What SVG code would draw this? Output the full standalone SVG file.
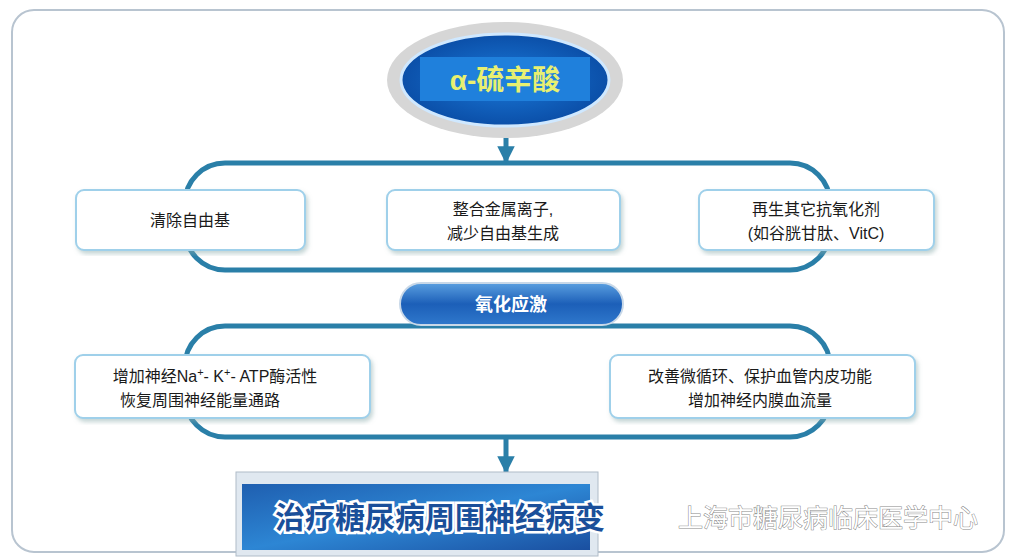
<svg xmlns="http://www.w3.org/2000/svg" width="1012" height="560" viewBox="0 0 1012 560">
<defs>
<style>
.box{fill:#fff;stroke:#9fd0ea;stroke-width:2}
.t{font-family:"Liberation Sans","Noto Sans CJK SC",sans-serif;font-size:16px;fill:#1a1a1a;text-anchor:middle}
.br{fill:none;stroke:#2a7fa8;stroke-width:5}
</style>
<linearGradient id="pill" x1="0" y1="0" x2="0" y2="1"><stop offset="0" stop-color="#5a9fe0"/><stop offset="0.5" stop-color="#1c5fb8"/><stop offset="1" stop-color="#2f78cc"/></linearGradient>
<linearGradient id="fin" x1="0" y1="0" x2="1" y2="1"><stop offset="0" stop-color="#1f5fb0"/><stop offset="0.5" stop-color="#2d86d4"/><stop offset="1" stop-color="#1a4fa0"/></linearGradient>
<radialGradient id="ell" cx="0.5" cy="0.5" r="0.5"><stop offset="0" stop-color="#1a78d8"/><stop offset="1" stop-color="#0b4fa8"/></radialGradient>
<marker id="ar" viewBox="0 0 10 10" refX="9" refY="5" markerWidth="3.5" markerHeight="3.5" orient="auto"><path d="M0,0 L10,5 L0,10 z" fill="#2a7fa8"/></marker>
<filter id="sh"><feDropShadow dx="2" dy="3" stdDeviation="2" flood-color="#8aa" flood-opacity="0.5"/></filter>
</defs>
<rect x="12" y="10" width="992" height="542" rx="22" fill="#fff" stroke="#b8c4d0" stroke-width="2"/>
<g id="connectors">
<rect class="br" x="185" y="163" width="645" height="107" rx="40"/>
<rect class="br" x="185" y="326" width="645" height="111" rx="40"/>
<line x1="506" y1="128" x2="506" y2="162" stroke="#2a7fa8" stroke-width="5" marker-end="url(#ar)"/>
<line x1="506" y1="437" x2="506" y2="472" stroke="#2a7fa8" stroke-width="5" marker-end="url(#ar)"/>
</g>
<g id="top">
<ellipse cx="505" cy="80" rx="118" ry="58" fill="#d6d6d6"/>
<ellipse cx="505" cy="80" rx="104" ry="46" fill="url(#ell)" stroke="#cfe8ff" stroke-width="3"/>
<rect x="420" y="57" width="170" height="44" fill="#1f80dc"/>
<text x="505" y="90" font-family="Liberation Sans,Noto Sans CJK SC,sans-serif" font-size="28" font-weight="bold" fill="#e8f070" text-anchor="middle">α-硫辛酸</text>
</g>
<g id="n1"><rect class="box" x="76" y="190" width="229" height="60" rx="8" filter="url(#sh)"/><text class="t" x="190" y="226">清除自由基</text></g>
<g id="n2"><rect class="box" x="387" y="190" width="233" height="60" rx="8" filter="url(#sh)"/><text class="t" x="503" y="215">整合金属离子,</text><text class="t" x="503" y="239">减少自由基生成</text></g>
<g id="n3"><rect class="box" x="699" y="190" width="235" height="60" rx="8" filter="url(#sh)"/><text class="t" x="816" y="215">再生其它抗氧化剂</text><text class="t" x="816" y="239">(如谷胱甘肽、VitC)</text></g>
<g id="mid"><rect x="400" y="283" width="223" height="42" rx="21" fill="url(#pill)" stroke="#c8d8e8" stroke-width="2"/><text x="511" y="311" font-family="Liberation Sans,Noto Sans CJK SC,sans-serif" font-size="18" font-weight="bold" fill="#fff" text-anchor="middle">氧化应激</text></g>
<g id="n4"><rect class="box" x="75" y="355" width="295" height="63" rx="8" filter="url(#sh)"/><text class="t" x="215" y="382">增加神经Na<tspan dy="-6" font-size="11">+</tspan><tspan dy="6">- K</tspan><tspan dy="-6" font-size="11">+</tspan><tspan dy="6">- ATP酶活性</tspan></text><text class="t" x="200" y="406">恢复周围神经能量通路</text></g>
<g id="n5"><rect class="box" x="610" y="355" width="305" height="63" rx="8" filter="url(#sh)"/><text class="t" x="760" y="382">改善微循环、保护血管内皮功能</text><text class="t" x="760" y="406">增加神经内膜血流量</text></g>
<g id="final"><rect x="236" y="472" width="362" height="84" fill="#e0e8f0" stroke="#b0bcc8"/><rect x="242" y="484" width="348" height="66" fill="url(#fin)"/><text x="440" y="528" font-family="Liberation Sans,Noto Sans CJK SC,sans-serif" font-size="30" font-weight="bold" fill="#1a4f9a" stroke="#fff" stroke-width="5" paint-order="stroke" text-anchor="middle">治疗糖尿病周围神经病变</text></g>
<text x="828" y="527" font-family="Liberation Sans,Noto Sans CJK SC,sans-serif" font-size="25" fill="#fff" stroke="#888" stroke-width="1" paint-order="stroke" text-anchor="middle">上海市糖尿病临床医学中心</text>
</svg>
